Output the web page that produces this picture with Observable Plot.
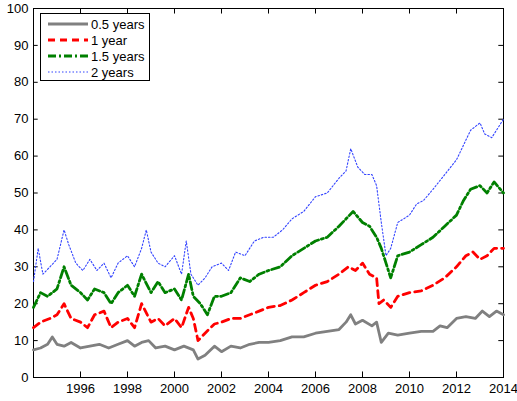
<!DOCTYPE html>
<html><head><meta charset="utf-8">
<script src="https://cdn.jsdelivr.net/npm/d3@7"></script>
<script src="https://cdn.jsdelivr.net/npm/@observablehq/plot@0.6"></script>
<style>
body{margin:0;background:#fff;font-family:Arial,"Liberation Sans",sans-serif}
#wrap{position:relative;width:517px;height:401px}
#legend{position:absolute;left:40px;top:13px;width:110px;height:68px;border:1px solid #000;background:#fff;font-size:13px;padding-top:2px;box-sizing:border-box}
#legend div{display:flex;align-items:center;height:16px}
#legend svg{margin:0 3px 0 7px}
</style></head><body>
<div id="wrap"><div id="chart"></div><div id="legend"></div></div>
<script>
// 0.5 years
const halfX = [1994.0,1994.3,1994.6,1994.8,1995.0,1995.3,1995.6,1996.0,1996.4,1996.8,1997.2,1997.6,1998.0,1998.3,1998.6,1998.9,1999.2,1999.6,2000.0,2000.4,2000.8,2001.0,2001.3,2001.7,2002.0,2002.4,2002.8,2003.2,2003.6,2004.0,2004.5,2005.0,2005.5,2006.0,2006.5,2007.0,2007.3,2007.5,2007.7,2008.0,2008.4,2008.6,2008.8,2009.1,2009.5,2010.0,2010.5,2011.0,2011.3,2011.6,2012.0,2012.4,2012.8,2013.1,2013.4,2013.7,2014.0];
const halfY = [7.5,8,9,11,9,8.5,9.5,8,8.5,9,8,9,10,8.5,9.5,10,8,8.5,7.5,8.5,7.5,5,6,8.5,7,8.5,8,9,9.5,9.5,10,11,11,12,12.5,13,15,17,14.5,15.5,14,15,9.5,12,11.5,12,12.5,12.5,14,13.5,16,16.5,16,18,16.5,18,17];
// 1 year
const oneX = [1994.0,1994.3,1994.7,1995.0,1995.3,1995.6,1996.0,1996.3,1996.6,1997.0,1997.3,1997.6,1998.0,1998.3,1998.6,1999.0,1999.3,1999.6,2000.0,2000.3,2000.6,2000.8,2001.0,2001.3,2001.7,2002.0,2002.4,2002.8,2003.2,2003.6,2004.0,2004.5,2005.0,2005.5,2006.0,2006.5,2007.0,2007.4,2007.7,2008.0,2008.3,2008.6,2008.7,2008.9,2009.2,2009.5,2010.0,2010.5,2011.0,2011.5,2012.0,2012.4,2012.7,2013.0,2013.3,2013.6,2014.0];
const oneY = [13.5,15,16,17,20,16,15,13.5,17,18,13.5,15,16,13.5,20,15,16,14,16,13.5,19,16,10,12,14.5,15,16,16,17,18,19,19.5,21,23,25,26,28,30,29,31,28,27,20,21,19,22,23,23.5,25,27,30,33,34,32,33,35,35];
// 1.5 years
const onehX = [1994.0,1994.3,1994.6,1995.0,1995.3,1995.6,1996.0,1996.3,1996.6,1997.0,1997.3,1997.6,1998.0,1998.3,1998.6,1999.0,1999.3,1999.6,2000.0,2000.3,2000.6,2000.8,2001.1,2001.4,2001.7,2002.0,2002.4,2002.8,2003.2,2003.6,2004.0,2004.5,2005.0,2005.5,2006.0,2006.5,2007.0,2007.3,2007.6,2008.0,2008.3,2008.6,2008.8,2009.0,2009.2,2009.5,2010.0,2010.5,2011.0,2011.5,2012.0,2012.3,2012.6,2013.0,2013.3,2013.6,2014.0];
const onehY = [19,23,22,24,30,25,23,21,24,23,20,23,25,22,28,23,26,23,24,21,28,22,20,17,22,22,23,27,26,28,29,30,33,35,37,38,41,43,45,42,41,38,35,31,27,33,34,36,38,41,44,48,51,52,50,53,50];
// 2 years
const twoX = [1994.0,1994.2,1994.4,1994.7,1995.0,1995.3,1995.5,1995.8,1996.1,1996.4,1996.7,1997.0,1997.3,1997.6,1998.0,1998.3,1998.6,1998.8,1999.0,1999.3,1999.6,2000.0,2000.3,2000.5,2000.7,2001.0,2001.3,2001.6,2002.0,2002.3,2002.6,2003.0,2003.4,2003.8,2004.2,2004.6,2005.0,2005.5,2006.0,2006.5,2007.0,2007.3,2007.5,2007.8,2008.1,2008.4,2008.6,2008.8,2009.0,2009.2,2009.5,2010.0,2010.3,2010.6,2011.0,2011.5,2012.0,2012.3,2012.6,2013.0,2013.2,2013.5,2014.0];
const twoY = [26,35,28,30,32,40,36,31,29,32,29,31,27,31,33,30,35,40,34,31,30,33,28,37,28,25,27,30,31,29,34,33,37,38,38,40,43,45,49,50,54,56,62,57,55,55,52,42,33,35,42,44,47,48,51,55,59,63,67,69,66,65,70];
const yTicks = d3.range(0, 101, 10);
const xTicks = d3.range(1996, 2015, 2);

const series = [
  {x: halfX, y: halfY, stroke: "#808080", w: 2.8, dash: null, label: "0.5 years"},
  {x: oneX, y: oneY, stroke: "#ff0000", w: 2.8, dash: "7,5", label: "1 year"},
  {x: onehX, y: onehY, stroke: "#008000", w: 2.8, dash: "8,3,2,3", label: "1.5 years"},
  {x: twoX, y: twoY, stroke: "#3344ff", w: 1.1, dash: "1.5,2", label: "2 years"}
];

const marks = [
  Plot.ruleY(yTicks, {x1: 1994, x2: 1994.2}),
  Plot.ruleY(yTicks, {x1: 2014, x2: 2013.8}),
  Plot.ruleX(xTicks, {y1: 0, y2: 1.5}),
  Plot.ruleX(xTicks, {y1: 100, y2: 98.5}),
  Plot.frame({stroke: "#000"})
];
for (const s of series) {
  marks.push(Plot.line(s.x.map((d, i) => ({x: d, y: s.y[i]})), {
    x: "x", y: "y", stroke: s.stroke, strokeWidth: s.w, strokeDasharray: s.dash
  }));
}

const chart = Plot.plot({
  width: 517, height: 401,
  marginLeft: 33, marginRight: 14, marginTop: 8, marginBottom: 24,
  style: {fontSize: "13px", fontFamily: "Arial, Liberation Sans, sans-serif", color: "#000"},
  x: {domain: [1994, 2014], ticks: xTicks, tickFormat: d => String(d), tickSize: 0, label: null, tickPadding: 6},
  y: {domain: [0, 100], ticks: yTicks, tickSize: 0, label: null, tickPadding: 5},
  marks
});
document.getElementById("chart").append(chart);

const leg = document.getElementById("legend");
for (const s of series) {
  const row = document.createElement("div");
  row.innerHTML = `<svg width="40" height="6"><line x1="0" x2="40" y1="3" y2="3" stroke="${s.stroke}" stroke-width="${s.w}" ${s.dash ? `stroke-dasharray="${s.dash}"` : ""}/></svg><span>${s.label}</span>`;
  leg.append(row);
}
</script>
</body></html>
